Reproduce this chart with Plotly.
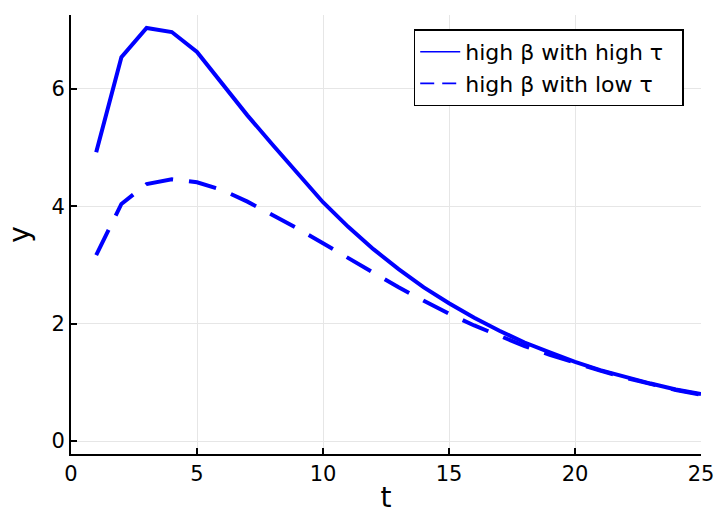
import plotly.graph_objects as go

t = list(range(1, 26))
high_tau = [4.92, 6.54, 7.04, 6.97, 6.63, 6.10, 5.55, 5.05, 4.55, 4.07,
            3.65, 3.27, 2.93, 2.62, 2.35, 2.10, 1.88, 1.68, 1.51, 1.35,
            1.21, 1.09, 0.98, 0.88, 0.80]
low_tau = [3.17, 4.04, 4.38, 4.46, 4.41, 4.28, 4.08, 3.85, 3.62, 3.37,
           3.12, 2.87, 2.62, 2.39, 2.17, 1.97, 1.79, 1.62, 1.47, 1.33,
           1.20, 1.08, 0.97, 0.87, 0.79]
names = ["high β with high τ", "high β with low τ"]
x_ticks = [0, 5, 10, 15, 20, 25]
y_ticks = [0, 2, 4, 6]

pad = "\u00a0\u00a0"  # right padding inside the legend box

fig = go.Figure()
fig.add_trace(go.Scatter(x=t, y=high_tau, mode="lines", name=names[0], showlegend=False,
                         legendgroup="a", line=dict(color="#0000ff", width=4)))
fig.add_trace(go.Scatter(x=t, y=low_tau, mode="lines", name=names[1], showlegend=False,
                         legendgroup="b", line=dict(color="#0000ff", width=4, dash="28px,16px")))
# legend entries with thin sample lines, as in the reference
fig.add_trace(go.Scatter(x=[None], y=[None], mode="lines", name=names[0] + pad, legendgroup="a",
                         line=dict(color="#0000ff", width=1.6)))
fig.add_trace(go.Scatter(x=[None], y=[None], mode="lines", name=names[1] + pad, legendgroup="b",
                         line=dict(color="#0000ff", width=1.6, dash="14px,8px")))

font = "DejaVu Sans"
fig.update_layout(
    width=717, height=514,
    margin=dict(l=71, r=16, t=15, b=60),
    paper_bgcolor="white", plot_bgcolor="white",
    font=dict(family=font, size=21, color="black"),
    legend=dict(x=0.544, y=0.967, xanchor="left", yanchor="top",
                bordercolor="black", borderwidth=1.5, bgcolor="white",
                font=dict(size=22), tracegroupgap=0, itemwidth=40),
    showlegend=True,
)
fig.update_xaxes(range=[0, 25], tickvals=x_ticks, showgrid=True, gridcolor="#e6e6e6",
                 gridwidth=1, showline=True, linecolor="black", linewidth=2,
                 ticks="inside", ticklen=6, tickwidth=1.5, tickcolor="black",
                 zeroline=False, automargin=False,
                 title=dict(text="t", font=dict(size=28), standoff=16),
                 tickfont=dict(size=21))
fig.update_yaxes(range=[-0.22, 7.26], tickvals=y_ticks, showgrid=True, gridcolor="#e6e6e6",
                 gridwidth=1, showline=True, linecolor="black", linewidth=2,
                 ticks="inside", ticklen=6, tickwidth=1.5, tickcolor="black",
                 zeroline=False, automargin=False,
                 title=dict(text="y", font=dict(size=28), standoff=14),
                 tickfont=dict(size=21))

fig.write_html("out.html")
